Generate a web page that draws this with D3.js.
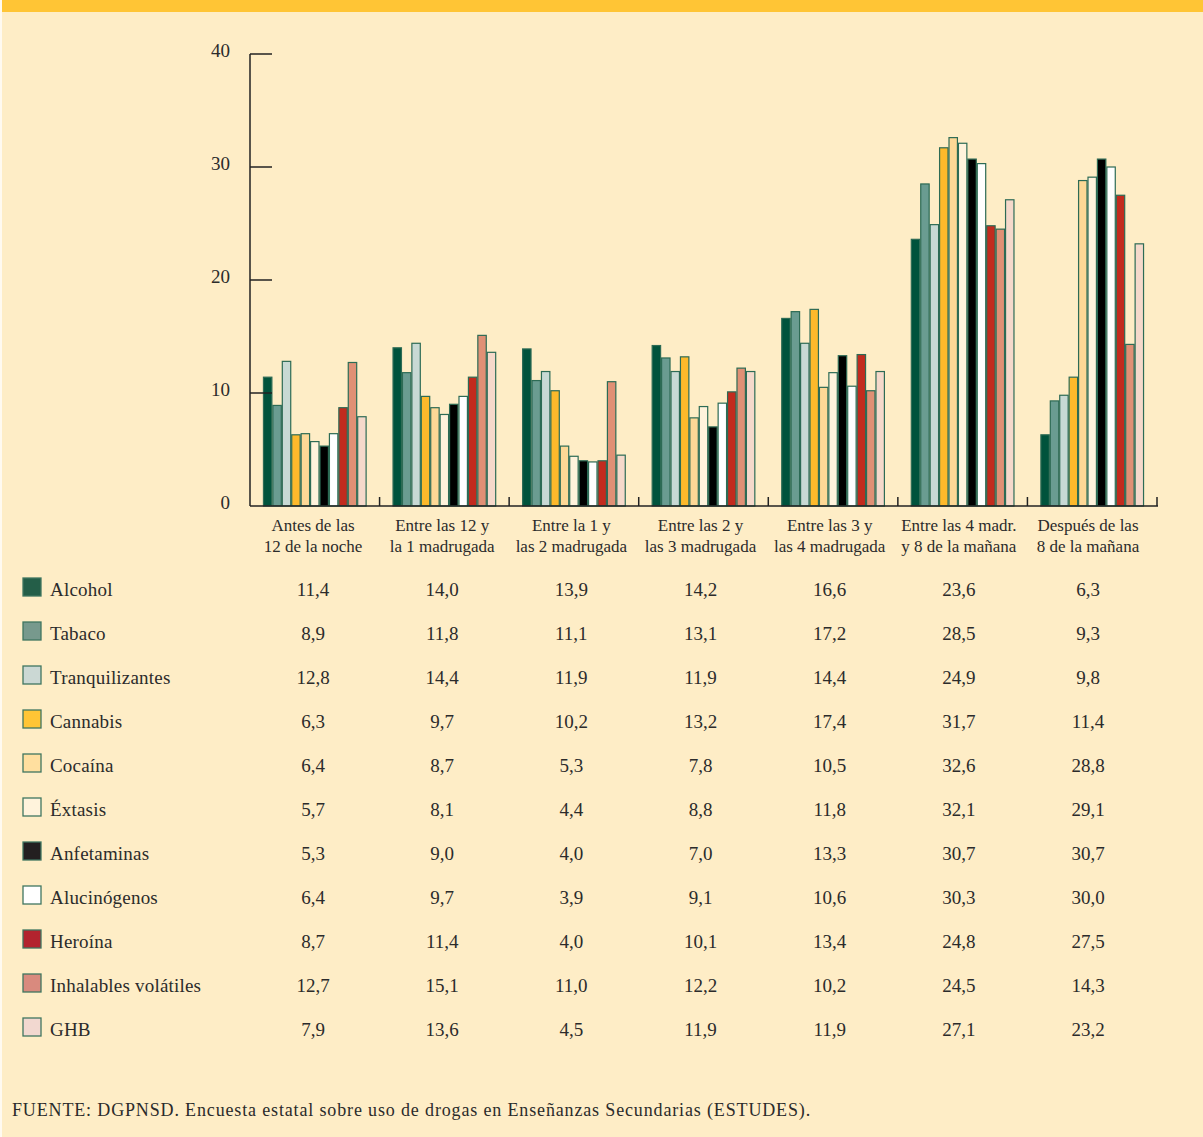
<!DOCTYPE html>
<html lang="es">
<head>
<meta charset="utf-8">
<script src="https://cdn.jsdelivr.net/npm/d3@7"></script>
<style>
  html, body { margin: 0; padding: 0; background: #fff; }
  svg { display: block; }
  text { font-family: "Liberation Serif", "DejaVu Serif", serif; fill: #2b2b2b; }
</style>
</head>
<body>
<svg id="chart" width="1203" height="1137"></svg>
<script>
// Franjas horarias (dos líneas por etiqueta)
const franjas = [
  ["Antes de las", "12 de la noche"],
  ["Entre las 12 y", "la 1 madrugada"],
  ["Entre la 1 y", "las 2 madrugada"],
  ["Entre las 2 y", "las 3 madrugada"],
  ["Entre las 3 y", "las 4 madrugada"],
  ["Entre las 4 madr.", "y 8 de la mañana"],
  ["Después de las", "8 de la mañana"]
];

const sustancias = [
  "Alcohol", "Tabaco", "Tranquilizantes", "Cannabis", "Cocaína", "Éxtasis",
  "Anfetaminas", "Alucinógenos", "Heroína", "Inhalables volátiles", "GHB"
];

// Porcentajes por sustancia, una entrada por franja horaria
const alcohol         = [11.4, 14.0, 13.9, 14.2, 16.6, 23.6, 6.3];
const tabaco          = [8.9, 11.8, 11.1, 13.1, 17.2, 28.5, 9.3];
const tranquilizantes = [12.8, 14.4, 11.9, 11.9, 14.4, 24.9, 9.8];
const cannabis        = [6.3, 9.7, 10.2, 13.2, 17.4, 31.7, 11.4];
const cocaina         = [6.4, 8.7, 5.3, 7.8, 10.5, 32.6, 28.8];
const extasis         = [5.7, 8.1, 4.4, 8.8, 11.8, 32.1, 29.1];
const anfetaminas     = [5.3, 9.0, 4.0, 7.0, 13.3, 30.7, 30.7];
const alucinogenos    = [6.4, 9.7, 3.9, 9.1, 10.6, 30.3, 30.0];
const heroina         = [8.7, 11.4, 4.0, 10.1, 13.4, 24.8, 27.5];
const inhalables      = [12.7, 15.1, 11.0, 12.2, 10.2, 24.5, 14.3];
const ghb             = [7.9, 13.6, 4.5, 11.9, 11.9, 27.1, 23.2];

const yTicks = [0, 10, 20, 30, 40];

const valores = [alcohol, tabaco, tranquilizantes, cannabis, cocaina, extasis,
                 anfetaminas, alucinogenos, heroina, inhalables, ghb];

const colores = ["#00533c", "#6a9c91", "#c8d9d4", "#fdb92b", "#fdd896", "#fff3dc",
                 "#000000", "#ffffff", "#c22b1e", "#e09075", "#f5d9cb"];
const coloresLeyenda = ["#245e48", "#77998d", "#cbd8d4", "#ffc535", "#ffdf9f", "#fff3dc",
                        "#231f20", "#ffffff", "#b3232e", "#d98a7e", "#f2d8d0"];

const svg = d3.select("#chart");
const W = 1203, H = 1137;

// Fondo y franja superior
svg.append("rect").attr("width", W).attr("height", H).attr("fill", "#feedc6");
svg.append("rect").attr("width", W).attr("height", 12).attr("fill", "#ffc535");
svg.append("rect").attr("x", 0).attr("y", 0).attr("width", 2).attr("height", H).attr("fill", "#fffaf0");

const plot = { left: 250, right: 1157, top: 54, bottom: 506 };

const x0 = d3.scaleBand()
  .domain(d3.range(franjas.length))
  .range([plot.left, plot.right])
  .paddingInner(0.2)
  .paddingOuter(0.1);

const x1 = d3.scaleBand()
  .domain(d3.range(sustancias.length))
  .range([0, x0.bandwidth()])
  .padding(0);

const y = d3.scaleLinear().domain([0, 40]).range([plot.bottom, plot.top]);

// Columnas de texto (etiquetas y tabla) bajo cada franja
const xTexto = d3.scalePoint()
  .domain(d3.range(franjas.length))
  .range([313, 1088]);

// Barras
const grupos = svg.append("g").selectAll("g")
  .data(franjas)
  .join("g")
  .attr("transform", (d, i) => `translate(${x0(i)},0)`);

grupos.selectAll("rect")
  .data((d, i) => valores.map((serie, s) => ({ s, v: serie[i] })))
  .join("rect")
  .attr("x", d => x1(d.s) + 0.5)
  .attr("y", d => y(d.v))
  .attr("width", x1.bandwidth() - 1)
  .attr("height", d => y(0) - y(d.v))
  .attr("fill", d => colores[d.s])
  .attr("stroke", "#2d6b55")
  .attr("stroke-width", 1.2);

// Eje Y
const yAxis = svg.append("g").attr("transform", `translate(${plot.left},0)`);
yAxis.append("line")
  .attr("x1", 0).attr("x2", 0)
  .attr("y1", y(40)).attr("y2", y(0))
  .attr("stroke", "#222").attr("stroke-width", 1.5);
yAxis.selectAll("line.tick")
  .data(yTicks.filter(t => t > 0))
  .join("line")
  .attr("class", "tick")
  .attr("x1", 0).attr("x2", 22)
  .attr("y1", d => y(d)).attr("y2", d => y(d))
  .attr("stroke", "#222").attr("stroke-width", 1.5);
yAxis.selectAll("text")
  .data(yTicks)
  .join("text")
  .attr("x", -20)
  .attr("y", d => y(d) - 1)
  .attr("text-anchor", "end")
  .attr("dominant-baseline", "middle")
  .attr("font-size", 19)
  .text(d => d);

// Eje X con marcas entre franjas
const xAxis = svg.append("g");
xAxis.append("line")
  .attr("x1", plot.left).attr("x2", plot.right + 1)
  .attr("y1", y(0)).attr("y2", y(0))
  .attr("stroke", "#222").attr("stroke-width", 1.5);
xAxis.selectAll("line.sep")
  .data(d3.range(1, franjas.length + 1))
  .join("line")
  .attr("class", "sep")
  .attr("x1", i => plot.left + i * (plot.right - plot.left) / franjas.length)
  .attr("x2", i => plot.left + i * (plot.right - plot.left) / franjas.length)
  .attr("y1", y(0) - 9).attr("y2", y(0))
  .attr("stroke", "#222").attr("stroke-width", 1.5);

// Etiquetas de franjas
svg.append("g").selectAll("text")
  .data(franjas)
  .join("text")
  .attr("font-size", 17)
  .attr("text-anchor", "middle")
  .each(function (d, i) {
    const t = d3.select(this);
    t.append("tspan").attr("x", xTexto(i)).attr("y", 531).text(d[0]);
    t.append("tspan").attr("x", xTexto(i)).attr("y", 552).text(d[1]);
  });

// Tabla de valores con leyenda
const filaY = s => 589 + s * 44;
const tabla = svg.append("g");
tabla.selectAll("rect")
  .data(sustancias)
  .join("rect")
  .attr("x", 23)
  .attr("y", (d, s) => filaY(s) - 11)
  .attr("width", 18).attr("height", 18)
  .attr("fill", (d, s) => coloresLeyenda[s])
  .attr("stroke", "#3f7660")
  .attr("stroke-width", 1.3);
tabla.selectAll("text.nombre")
  .data(sustancias)
  .join("text")
  .attr("class", "nombre")
  .attr("x", 50)
  .attr("y", (d, s) => filaY(s) + 7)
  .attr("font-size", 19)
  .attr("letter-spacing", 0.2)
  .text(d => d);

valores.forEach((serie, s) => {
  tabla.selectAll(`text.v${s}`)
    .data(serie)
    .join("text")
    .attr("class", `v${s}`)
    .attr("x", (d, i) => xTexto(i))
    .attr("y", filaY(s) + 7)
    .attr("text-anchor", "middle")
    .attr("font-size", 19)
    .text(d => d3.format(".1f")(d).replace(".", ","));
});

// Fuente
svg.append("text")
  .attr("x", 12).attr("y", 1116)
  .attr("font-size", 18)
  .attr("letter-spacing", 0.85)
  .text("FUENTE: DGPNSD. Encuesta estatal sobre uso de drogas en Enseñanzas Secundarias (ESTUDES).");
</script>
</body>
</html>
